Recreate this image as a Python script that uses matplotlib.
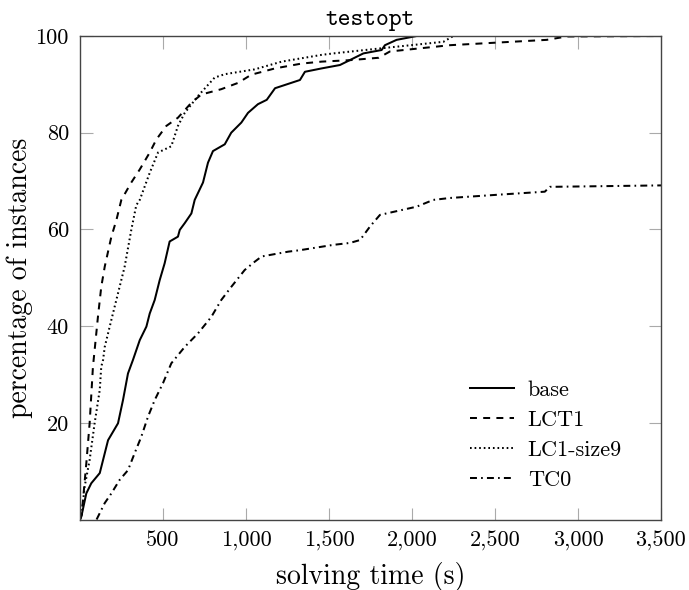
import matplotlib
matplotlib.use("Agg")
import matplotlib.pyplot as plt
from matplotlib.ticker import FuncFormatter

# ---- data ----
base_x = [0, 8, 38, 68, 119, 169, 229, 259, 289, 319, 360, 400, 420, 450, 480, 510, 540, 590, 601,
          631, 671, 691, 741, 771, 801, 872, 911, 972, 1012, 1072, 1125, 1175, 1325, 1355, 1456,
          1566, 1707, 1817, 1837, 1907, 2028]
base_y = [0, 0.6, 5.4, 7.5, 9.6, 16.4, 19.9, 24.7, 30.2, 33, 37.1, 39.9, 42.6, 45.4, 49.5, 53, 57.5,
          58.5, 59.9, 61.3, 63.3, 66.1, 69.7, 73.8, 76.2, 77.6, 80, 82.1, 84.1, 85.9, 86.8, 89.2,
          90.9, 92.6, 93.3, 94, 96.4, 97.1, 98.1, 99.2, 100]

lct1_x = [0, 10, 18, 38, 58, 78, 88, 108, 128, 149, 189, 219, 249, 309, 360, 420, 460, 520, 590,
          671, 731, 851, 952, 1032, 1175, 1335, 1456, 1626, 1800, 1867, 2229, 2811, 2932, 3500]
lct1_y = [0, 1, 4, 11.6, 19.9, 31.6, 35, 41.9, 48.1, 52.3, 58.5, 61.9, 66.1, 69.7, 72.4, 75.9,
          78.6, 81.4, 83.1, 86.2, 87.9, 89, 90.3, 92, 93.3, 94.3, 94.7, 95, 95.5, 96.8, 98.1,
          99.2, 99.9, 100]

lc1_x = [0, 10, 28, 58, 88, 119, 128, 139, 149, 189, 229, 269, 309, 339, 360, 420, 470, 550, 590,
         631, 711, 811, 872, 1052, 1215, 1456, 1526, 1827, 2189, 2249]
lc1_y = [0, 1, 6.8, 12.3, 19.9, 26.8, 31.6, 33, 35.7, 41.3, 46.8, 52.3, 59.9, 65.0, 66.1, 71.7,
         75.9, 77.2, 81.4, 84.1, 87.6, 91.4, 92.1, 93.1, 94.7, 96.1, 96.4, 97.5, 98.8, 100]

tc0_x = [100, 149, 189, 239, 289, 329, 369, 410, 450, 500, 550, 631, 711, 791, 851, 911, 992,
         1052, 1094, 1255, 1325, 1526, 1626, 1687, 1747, 1807, 2028, 2128, 2229, 2530, 2800,
         2830, 3500]
tc0_y = [0, 3.4, 5.4, 8.2, 10.2, 13.7, 17.1, 21.3, 24.7, 28.2, 32.3, 35.7, 38.5, 41.9, 45.4,
         48.1, 51.6, 53.3, 54.4, 55.4, 55.7, 56.8, 57.2, 57.8, 60.6, 63, 64.7, 66.1, 66.5, 67.2,
         67.8, 68.8, 69.1]

labels = ["base", "LCT1", "LC1-size9", "TC0"]
xticks = [500, 1000, 1500, 2000, 2500, 3000, 3500]
yticks = [20, 40, 60, 80, 100]

plt.rcParams["font.family"] = ["cmr10", "DejaVu Serif"]
plt.rcParams["axes.formatter.use_mathtext"] = True
plt.rcParams["lines.scale_dashes"] = False

fig = plt.figure(figsize=(6.89, 5.90), dpi=100)
ax = fig.add_axes([80 / 689, 1 - 519.5 / 590, 581 / 689, 483.5 / 590])

lw = 1.45
ax.plot(base_x, base_y, color="black", lw=lw, linestyle="-", label=labels[0])
ax.plot(lct1_x, lct1_y, color="black", lw=lw, linestyle=(0, (5.0, 4.5)), label=labels[1])
ax.plot(lc1_x, lc1_y, color="black", lw=lw, linestyle=(0, (1.2, 2.1)), label=labels[2])
ax.plot(tc0_x, tc0_y, color="black", lw=lw, linestyle=(0, (5.0, 3.0, 1.2, 3.0)), label=labels[3])

ax.set_xlim(0, 3500)
ax.set_ylim(0, 100)
ax.set_xticks(xticks)
ax.set_yticks(yticks)
ax.xaxis.set_major_formatter(FuncFormatter(lambda v, p: f"{v:,.0f}"))
ax.yaxis.set_major_formatter(FuncFormatter(lambda v, p: f"{v:.0f}"))
ax.tick_params(direction="in", length=9, width=0.8, color="#aaaaaa",
               top=True, right=True, labelsize=16, pad=8)
for s in ax.spines.values():
    s.set_color("#444444")
    s.set_linewidth(1.0)

ax.set_xlabel("solving time (s)", fontsize=20, labelpad=8)
ax.set_ylabel("percentage of instances", fontsize=20, labelpad=2)
ax.set_title("testopt", family=["cmtt10", "DejaVu Sans Mono"], fontsize=17.5, pad=8)

leg = ax.legend(loc="upper left", frameon=False, fontsize=16, handlelength=2.0,
                handletextpad=0.6, labelspacing=0.47, borderpad=0, borderaxespad=0,
                bbox_to_anchor=(470 / 689, 1 - 380.5 / 590), bbox_transform=fig.transFigure)

fig.savefig("out.png", dpi=100)
